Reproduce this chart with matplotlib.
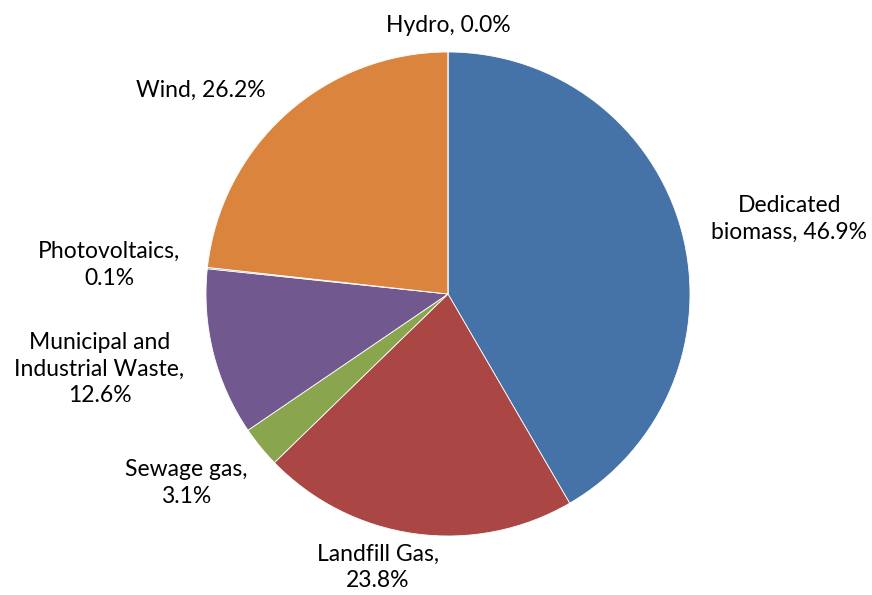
import matplotlib.pyplot as plt

# slice values (as labelled; Excel draws them proportionally), clockwise from 12 o'clock
sources = ["Dedicated\nbiomass", "Landfill Gas", "Sewage gas",
           "Municipal and\nIndustrial Waste", "Photovoltaics", "Wind", "Hydro"]
shares = [46.9, 23.8, 3.1, 12.6, 0.1, 26.2, 0.0]
colors = ["#4572A7", "#AA4643", "#89A54E", "#71588F", "#4198AF", "#DB843D", "#93A9CF"]

# label text layout: separator after the name, and where the label sits (radius units)
label_sep = [", ", ",\n", ",\n", ",\n", ",\n", ", ", ", "]
label_pos = [(1.41, 0.31), (-0.29, -1.13), (-1.08, -0.78), (-1.44, -0.31),
             (-1.40, 0.12), (-1.02, 0.84), (0.0, 1.11)]

plt.rcParams["font.family"] = ["Lato", "DejaVu Sans"]

W, H = 872, 595
cx, cy, R = 448, 294, 242   # pie centre / radius in pixels (from top-left)

fig = plt.figure(figsize=(W / 100, H / 100), dpi=100)
ax = fig.add_axes([0, 0, 1, 1])

ax.pie(shares, colors=colors, startangle=90, counterclock=False, radius=1,
       wedgeprops=dict(edgecolor="white", linewidth=0.6))

for name, val, sep, (lx, ly) in zip(sources, shares, label_sep, label_pos):
    ax.text(lx, ly, f"{name}{sep}{val:.1f}%", ha="center", va="center",
            fontsize=16.5, color="#000000", linespacing=1.35)

ax.set_xlim(-cx / R, (W - cx) / R)
ax.set_ylim(-(H - cy) / R, cy / R)
ax.set_aspect("equal", adjustable="datalim")
ax.axis("off")

fig.savefig("out.png", dpi=100, facecolor="white")
